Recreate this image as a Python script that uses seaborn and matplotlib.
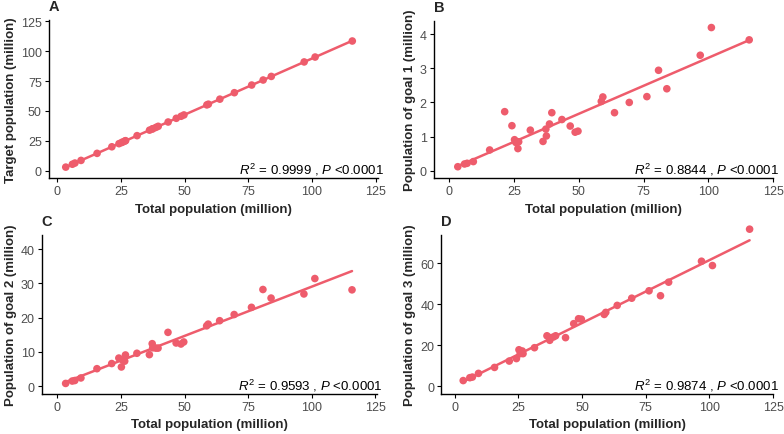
import matplotlib
matplotlib.use("Agg")
import matplotlib.pyplot as plt
import seaborn as sns
import numpy as np
import pandas as pd

# total population of each province (million), shared x values
total_pop = [3.3, 5.9, 6.9, 9.3, 15.6, 21.4, 24.2, 25.2, 25.7, 26.5, 26.8,
             31.3, 36.2, 37.3, 37.5, 38.7, 39.6, 43.5, 46.7, 48.6, 49.7,
             58.7, 59.3, 63.8, 69.5, 76.3, 80.8, 84.0, 96.9, 101.2, 115.8]

target_pop = [3.1, 5.5, 6.5, 8.7, 14.6, 20.1, 22.7, 23.6, 24.1, 24.9, 25.2,
              29.4, 34.0, 35.0, 35.2, 36.3, 37.2, 40.8, 43.9, 45.6, 46.7,
              55.1, 55.7, 59.9, 65.3, 71.7, 75.9, 78.9, 91.0, 95.1, 108.5]

goal1_pop = [0.12, 0.20, 0.22, 0.27, 0.61, 1.73, 1.32, 0.91, 0.83, 0.65, 0.85,
             1.19, 0.86, 1.22, 1.02, 1.37, 1.70, 1.50, 1.31, 1.13, 1.16,
             2.03, 2.16, 1.70, 2.00, 2.17, 2.94, 2.40, 3.38, 4.19, 3.83]

goal2_pop = [0.8, 1.5, 1.65, 2.4, 5.1, 6.6, 8.2, 5.6, 7.6, 7.3, 9.1,
             9.6, 9.2, 12.4, 11.2, 11.1, 11.1, 15.7, 12.6, 12.3, 12.9,
             17.6, 18.1, 19.1, 20.9, 23.0, 28.2, 25.7, 26.9, 31.4, 28.1]

goal3_pop = [2.8, 4.2, 4.5, 6.3, 9.2, 12.3, 13.5, 17.8, 15.9, 17.2, 15.9,
             18.8, 24.6, 22.4, 23.7, 24.0, 24.6, 23.7, 30.5, 32.9, 32.7,
             35.0, 36.0, 39.4, 42.9, 46.5, 44.1, 50.7, 60.9, 58.8, 76.5]

panel_letters = ["A", "B", "C", "D"]
y_labels = ["Target population (million)", "Population of goal 1 (million)",
            "Population of goal 2 (million)", "Population of goal 3 (million)"]
r2_values = ["0.9999", "0.8844", "0.9593", "0.9874"]
y_ticks = [[0, 25, 50, 75, 100, 125], [0, 1, 2, 3, 4], [0, 10, 20, 30, 40], [0, 20, 40, 60]]
x_ticks = [0, 25, 50, 75, 100, 125]

sns.set_theme(style="ticks")
plt.rcParams["font.family"] = ["Liberation Sans", "DejaVu Sans"]
plt.rcParams["mathtext.fontset"] = "custom"
plt.rcParams["mathtext.rm"] = "Liberation Sans"
plt.rcParams["mathtext.it"] = "Liberation Sans:italic"

color = "#EE5C6C"
series = [target_pop, goal1_pop, goal2_pop, goal3_pop]

# axes placement in figure fraction (left, bottom, width, height)
rects = [[0.0621, 0.5885, 0.4204, 0.3639],
         [0.5532, 0.5885, 0.4328, 0.3616],
         [0.0532, 0.0926, 0.4273, 0.3641],
         [0.5629, 0.0926, 0.4231, 0.3641]]
xlims = [(-3.4, 126), (-6, 125), (-6.1, 125.5), (-5.3, 125)]
ylims = [(-6, 126.3), (-0.21, 4.39), (-2.2, 44), (-3.6, 73.5)]

fig = plt.figure(figsize=(7.84, 4.35), dpi=100)

for i in range(4):
    ax = fig.add_axes(rects[i])
    df = pd.DataFrame({"x": total_pop, "y": series[i]})
    sns.regplot(data=df, x="x", y="y", ax=ax, ci=None, scatter=False,
                color=color, line_kws={"linewidth": 1.8})
    sns.scatterplot(data=df, x="x", y="y", ax=ax, color=color, s=30,
                    edgecolor="none", clip_on=False, zorder=3)
    ax.set_xlim(*xlims[i])
    ax.set_ylim(*ylims[i])
    ax.set_xticks(x_ticks)
    ax.set_yticks(y_ticks[i])
    ax.tick_params(labelsize=9, length=3, width=0.8, colors="black",
                   labelcolor="#4D4D4D", pad=2)
    for side in ["top", "right"]:
        ax.spines[side].set_visible(False)
    for side in ["left", "bottom"]:
        ax.spines[side].set_linewidth(1.0)
        ax.spines[side].set_color("black")
    ax.set_xlabel("Total population (million)", fontsize=9.5, fontweight="bold", labelpad=4)
    ax.set_ylabel(y_labels[i], fontsize=9.5, fontweight="bold", labelpad=3)
    ax.annotate(r"$\it{R}^2$ = " + r2_values[i] + r" , $\it{P}$ <0.0001",
                xy=(1, 0), xycoords="axes fraction", xytext=(6, 1),
                textcoords="offset pixels", ha="right", va="bottom",
                fontsize=9.5, color="black", annotation_clip=False)
    ax.annotate(panel_letters[i], xy=(0, 1), xycoords="axes fraction",
                xytext=(0, 7), textcoords="offset pixels",
                fontsize=10.5, fontweight="bold", ha="left", va="bottom",
                annotation_clip=False)

fig.savefig("out.png", dpi=100)
